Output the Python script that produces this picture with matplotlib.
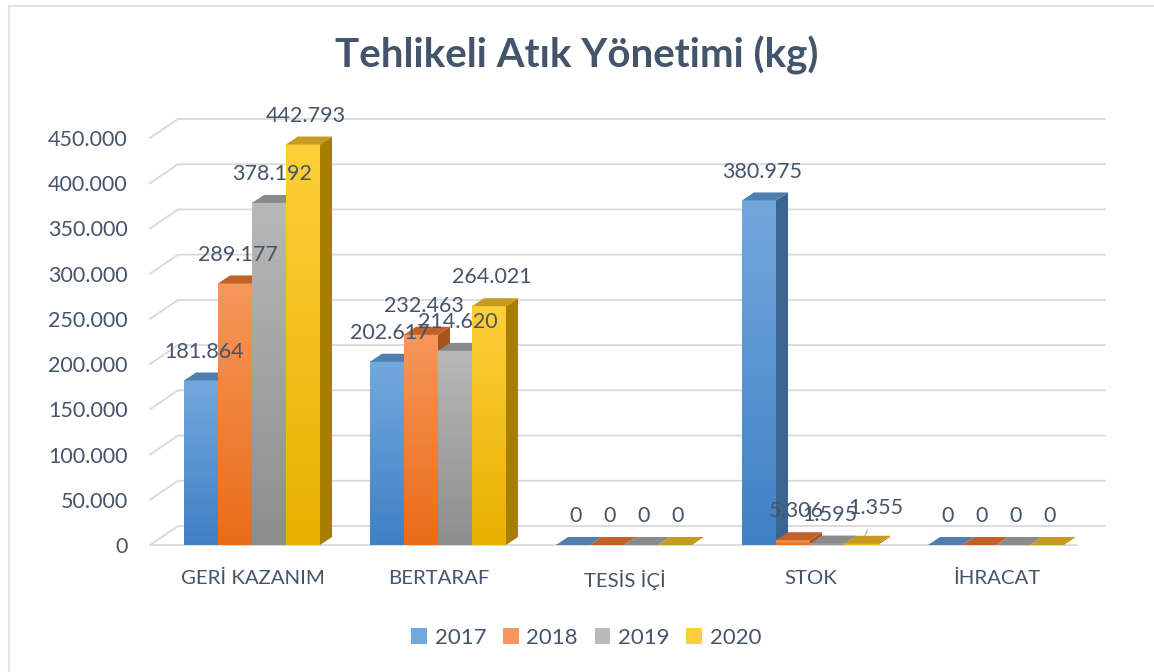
import numpy as np
import matplotlib.pyplot as plt
from matplotlib.patches import Polygon, Rectangle
from matplotlib.colors import LinearSegmentedColormap

plt.rcParams['font.family'] = ['Lato', 'DejaVu Sans']

categories = ['GERİ KAZANIM', 'BERTARAF', 'TESİS İÇİ', 'STOK', 'İHRACAT']
years = ['2017', '2018', '2019', '2020']
v2017 = [181864, 202617, 0, 380975, 0]
v2018 = [289177, 232463, 0, 5306, 0]
v2019 = [378192, 214620, 0, 1595, 0]
v2020 = [442793, 264021, 0, 1355, 0]
series = [v2017, v2018, v2019, v2020]
yticks = [0, 50000, 100000, 150000, 200000, 250000, 300000, 350000, 400000, 450000]

# colours: light (top of gradient), dark (bottom), side face, top face
light = ['#73a8de', '#f7975c', '#b8b8b8', '#ffcf3a']
dark = ['#3f80c4', '#e96c18', '#8e8e8e', '#e8b000']
side_c = ['#3a6591', '#a8531c', '#707070', '#a77e00']
top_c = ['#4f7fb0', '#c0622a', '#8a8a8a', '#c79a22']
txt = '#44546a'


def fmt(v):
    return f"{v:,}".replace(',', '.')


W, H = 1154, 672
fig = plt.figure(figsize=(W / 100, H / 100), dpi=100)
fig.patch.set_facecolor('white')
fig.patches.append(Rectangle((8.5 / W, -0.01), 1.05, (H - 5.5) / H + 0.01,
                             transform=fig.transFigure, fill=False,
                             edgecolor='#dfe3e8', lw=1.5))

left_px, right_px, base_px, top_px = 150, 1077, 545, 138
ax = fig.add_axes([left_px / W, 1 - base_px / H, (right_px - left_px) / W,
                   (base_px - top_px) / H])
unit_px = 186
c0 = 252
xmin = (left_px - c0) / unit_px
xmax = (right_px - c0) / unit_px
ax.set_xlim(xmin, xmax)
ax.set_ylim(0, 450000)
for s in ax.spines.values():
    s.set_visible(False)

ypx = 450000 / (base_px - top_px)   # data units per pixel
xpx = 1 / unit_px

# perspective grid
gdx, gdy = 28 * xpx, 19 * ypx
grid_c = '#d9d9d9'
for v in yticks:
    ax.plot([xmin, xmin + gdx, xmax + gdx], [v, v + gdy, v + gdy],
            color=grid_c, lw=1.3, clip_on=False, zorder=0)
ax.plot([xmin, xmax], [0, 0], color=grid_c, lw=1.3, clip_on=False, zorder=0)

# 3D-ish bars
w = 34 * xpx
bdx, bdy = 12 * xpx, 8 * ypx
xs = np.arange(len(categories))
z = 2
for gi in range(len(categories)):
    for i, vals in enumerate(series):
        h = vals[gi]
        x0 = xs[gi] + (i - 2) * w
        cmap = LinearSegmentedColormap.from_list('g', [dark[i], light[i]])
        if h > 0:
            grad = np.linspace(0, 1, 100).reshape(-1, 1)
            im = ax.imshow(grad, extent=[x0, x0 + w, 0, h], origin='lower',
                           aspect='auto', cmap=cmap, zorder=z)
            im.set_clip_on(False)
        ax.add_patch(Polygon([(x0 + w, 0), (x0 + w + bdx, bdy),
                              (x0 + w + bdx, h + bdy), (x0 + w, h)],
                             closed=True, facecolor=side_c[i], lw=0, zorder=z,
                             clip_on=False))
        ax.add_patch(Polygon([(x0, h), (x0 + bdx, h + bdy),
                              (x0 + w + bdx, h + bdy), (x0 + w, h)],
                             closed=True, facecolor=top_c[i], lw=0, zorder=z,
                             clip_on=False))
        z += 1
        xc = x0 + w / 2 + bdx / 2
        if categories[gi] == 'STOK' and i == 3:
            ax.annotate(fmt(h), (xc - 2 * xpx, h + bdy), xytext=(8, 20),
                        textcoords='offset points', ha='center', va='center',
                        fontsize=15.5, color=txt, zorder=100,
                        annotation_clip=False,
                        arrowprops=dict(arrowstyle='-', color='#a9b9cc', lw=1,
                                        shrinkA=7, shrinkB=0))
        else:
            ax.annotate(fmt(h), (xc - 3 * xpx, h + bdy), xytext=(0, 15),
                        textcoords='offset points', ha='center', va='center',
                        fontsize=15.5, color=txt, zorder=100,
                        annotation_clip=False)

ax.set_xticks(xs + 3 * xpx - 2 * xpx)
ax.set_xticklabels(categories, fontsize=14.7, color=txt)
ax.set_yticks(yticks)
ax.set_yticklabels([fmt(v) for v in yticks], fontsize=15.5, color=txt)
ax.tick_params(axis='x', length=0, pad=18)
ax.tick_params(axis='y', length=0, pad=16)

fig.text(0.5, 1 - 55 / H, 'Tehlikeli Atık Yönetimi (kg)', ha='center',
         va='center', fontsize=29, fontweight='bold', color=txt)

handles = [Rectangle((0, 0), 1, 1, facecolor=light[i]) for i in range(4)]
fig.legend(handles, years, loc='center', bbox_to_anchor=(0.508, 1 - 638 / H),
           ncol=4, frameon=False, fontsize=16, labelcolor=txt,
           handlelength=0.7, handleheight=0.7, handletextpad=0.35,
           columnspacing=0.75)

fig.savefig('out.png', dpi=100)
